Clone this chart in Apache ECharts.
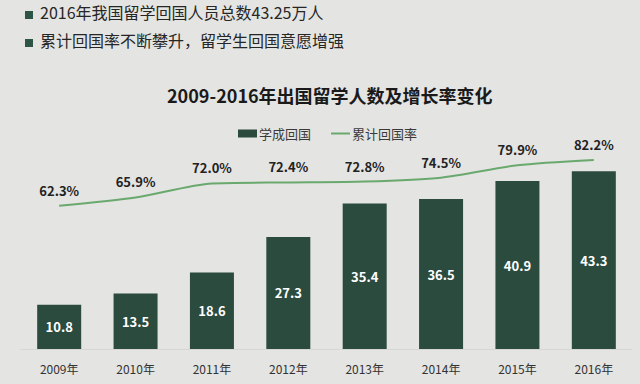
<!DOCTYPE html>
<html><head><meta charset="utf-8">
<script src="https://cdn.jsdelivr.net/npm/echarts@6/dist/echarts.min.js"></script>
<style>html,body{margin:0;padding:0;background:#e4e4e2;}#c{width:640px;height:384px;}</style>
</head><body><div id="c"></div>
<script>
const categories = ['2009年','2010年','2011年','2012年','2013年','2014年','2015年','2016年'];
const returnees = [10.8, 13.5, 18.6, 27.3, 35.4, 36.5, 40.9, 43.3];
const returnRate = [62.3, 65.9, 72.0, 72.4, 72.8, 74.5, 79.9, 82.2];
const bulletLines = ['2016年我国留学回国人员总数43.25万人', '累计回国率不断攀升，留学生回国意愿增强'];
const chartTitle = '2009-2016年出国留学人数及增长率变化';
const seriesNames = ['学成回国', '累计回国率'];

const FONT = '"Noto Sans CJK SC", "Noto Sans", sans-serif';
const chart = echarts.init(document.getElementById('c'), null, {renderer: 'svg'});
const graphics = [];
bulletLines.forEach((t, i) => {
  const cy = 15 + i * 28;
  graphics.push({type: 'rect', left: 25, top: cy - 4, shape: {width: 8, height: 8}, style: {fill: '#2d5546'}});
  graphics.push({type: 'text', left: 40, top: cy - 11, style: {text: t, font: '16px ' + FONT, fill: '#262626'}});
});
chart.setOption({
  backgroundColor: '#e4e4e2',
  textStyle: {fontFamily: FONT},
  title: {text: chartTitle, left: 162, top: 81, textStyle: {fontSize: 18, fontWeight: 'bold', color: '#1a1a1a', fontFamily: FONT}},
  graphic: graphics,
  legend: {
    left: 233, top: 122, itemGap: 20, itemWidth: 19, itemHeight: 8,
    textStyle: {fontSize: 13, color: '#3a3a3a', padding: [0, 0, 0, -3]},
    data: [
      {name: seriesNames[0], icon: 'rect'},
      {name: seriesNames[1], icon: 'path://M0,3H20V5H0Z M0,0H0.01V0.01H0Z M0,8H0.01V7.99H0Z'}
    ]
  },
  grid: {left: 21, right: 8, top: 119, bottom: 35},
  xAxis: {
    type: 'category', data: categories,
    axisLine: {show: true, lineStyle: {color: '#d6d6d4', width: 1}},
    axisTick: {show: false},
    axisLabel: {color: '#333', fontSize: 12, margin: 13}
  },
  yAxis: [
    {type: 'value', min: 0, max: 56, show: false, splitLine: {show: false}},
    {type: 'value', min: 0, max: 100, show: false, splitLine: {show: false}}
  ],
  series: [
    {
      name: seriesNames[0], type: 'bar', data: returnees, barWidth: 44, yAxisIndex: 0,
      itemStyle: {color: '#2b4b3f'},
      label: {show: true, position: 'inside', color: '#fff', fontSize: 13, fontWeight: 'bold', formatter: p => p.value.toFixed(1)}
    },
    {
      name: seriesNames[1], type: 'line', data: returnRate, yAxisIndex: 1, smooth: 0.25,
      symbol: 'circle', symbolSize: 0, showSymbol: true,
      lineStyle: {color: '#6aa96e', width: 2},
      itemStyle: {color: '#6aa96e'},
      label: {show: true, position: 'top', distance: 9, color: '#222', fontSize: 13, fontWeight: 'bold', formatter: p => p.value.toFixed(1) + '%'}
    }
  ]
});
</script></body></html>
